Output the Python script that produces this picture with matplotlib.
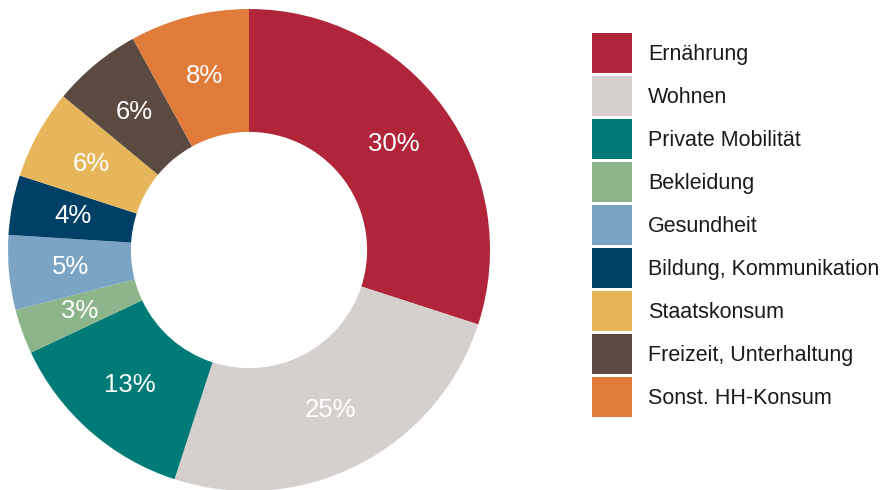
import matplotlib.pyplot as plt

categories = ['Ernährung', 'Wohnen', 'Private Mobilität', 'Bekleidung', 'Gesundheit',
              'Bildung, Kommunikation', 'Staatskonsum', 'Freizeit, Unterhaltung',
              'Sonst. HH-Konsum']
shares = [30, 25, 13, 3, 5, 4, 6, 6, 8]
colors = ['#B0253A', '#D5D0CE', '#007B77', '#8DB58C', '#7AA3C4',
          '#003F66', '#E8B65A', '#5A4A3F', '#E07B3A']

plt.rcParams['font.family'] = ['Liberation Sans', 'DejaVu Sans']

fig = plt.figure(figsize=(8.85, 4.9), dpi=100)
ax = fig.add_axes([8/885, -1/490, 482/885, 482/490])

wedges, texts, autotexts = ax.pie(
    shares, colors=colors, startangle=90, counterclock=False,
    radius=1.0, wedgeprops=dict(width=0.51, linewidth=0),
    autopct=lambda p: f'{p:.0f}%', pctdistance=0.745,
    textprops=dict(color='white', fontsize=18.5))
ax.set_xlim(-1, 1)
ax.set_ylim(-1, 1)
ax.set_aspect('equal')
ax.axis('off')

# legend squares are 40px, rows 43px apart
fs = 15.5
box = 40 * 72 / 100 / fs            # 40 px in units of font size
hh = (box - 0.245) / 0.65           # legend shrinks handle by its descent
fig.legend(wedges, categories, loc='upper left',
           bbox_to_anchor=(592/885, 1 - 33/490), frameon=False,
           fontsize=fs, handlelength=box, handleheight=hh,
           labelspacing=3 * 72 / 100 / fs, handletextpad=16 * 72 / 100 / fs,
           borderpad=0, borderaxespad=0, labelcolor='#1a1a1a')

fig.savefig('out.png', dpi=100)
